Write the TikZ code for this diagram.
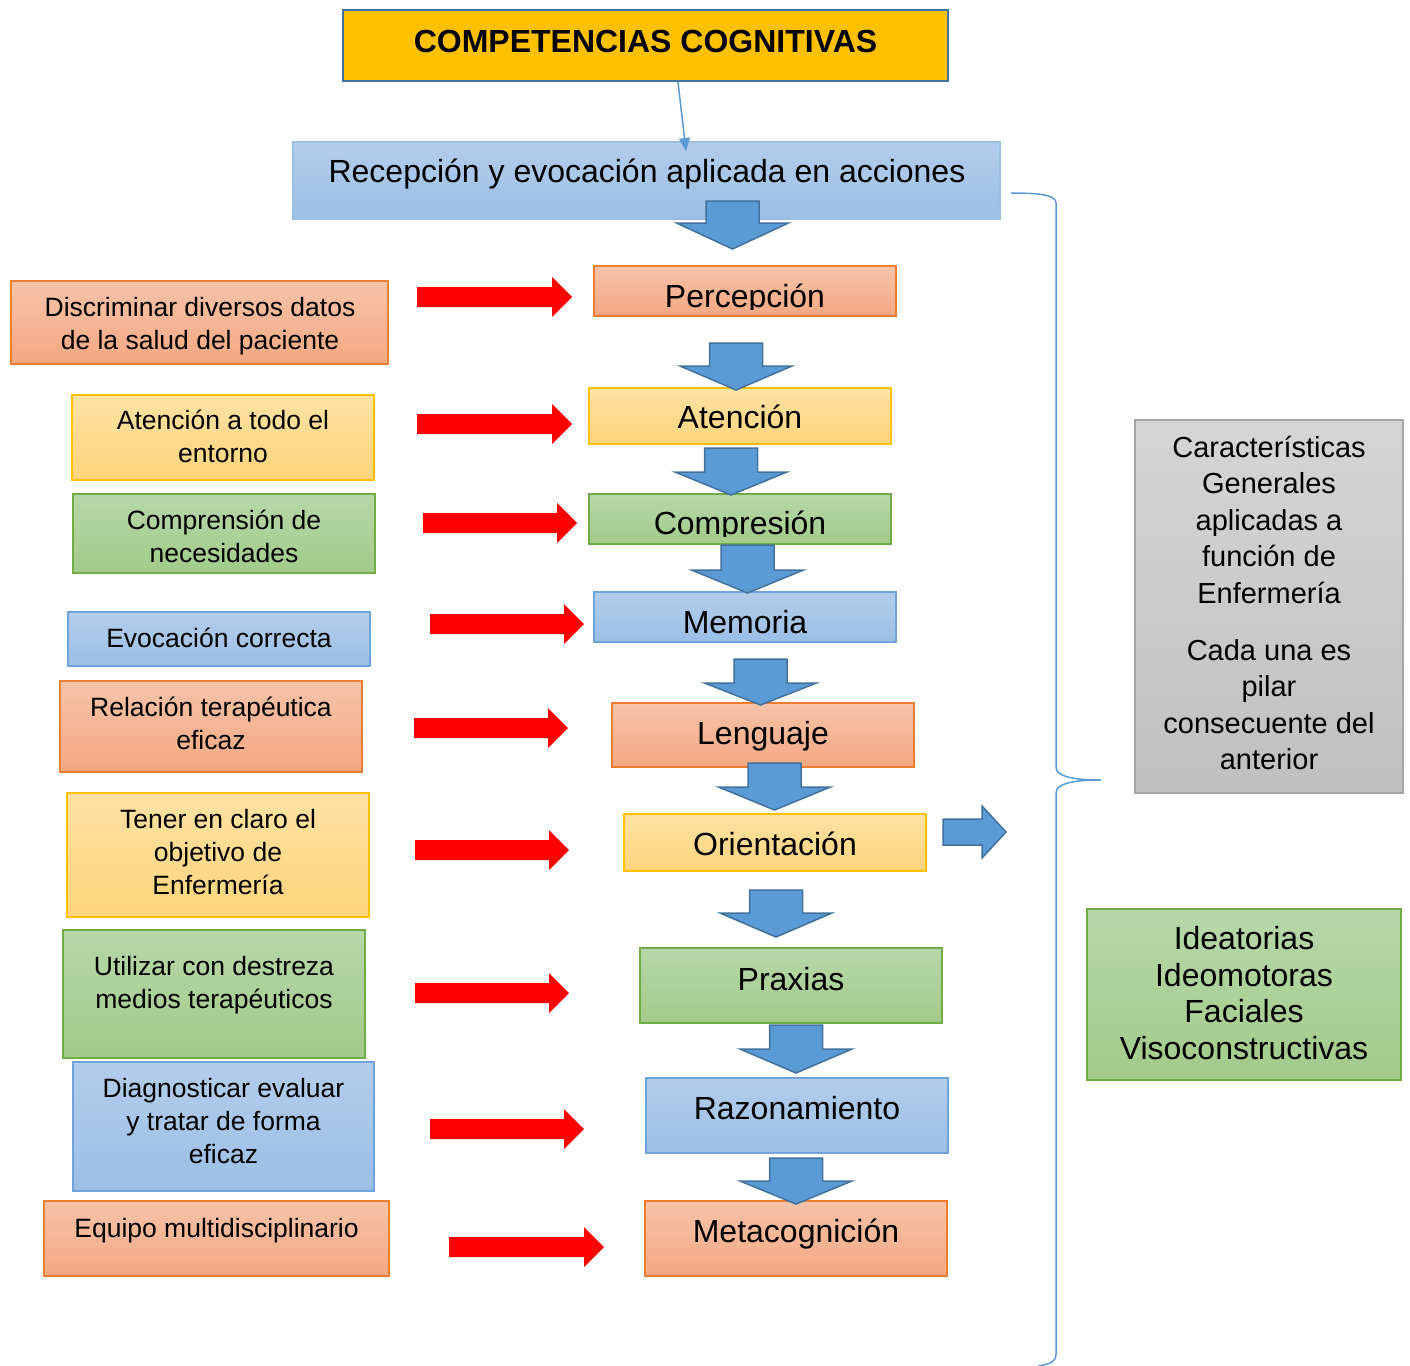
\documentclass[tikz,border=0pt]{standalone}
\usepackage{fontspec}
\setmainfont{Liberation Sans}
\usetikzlibrary{arrows.meta,fit}
\definecolor{orD}{HTML}{ED7D31}\definecolor{orT}{HTML}{F7C3A9}\definecolor{orB}{HTML}{F4A882}
\definecolor{yeD}{HTML}{FFC000}\definecolor{yeT}{HTML}{FFE2A4}\definecolor{yeB}{HTML}{FFD47C}
\definecolor{grD}{HTML}{70AD47}\definecolor{grT}{HTML}{B7D7A9}\definecolor{grB}{HTML}{A2CB8A}
\definecolor{blD}{HTML}{6FA3DA}\definecolor{blT}{HTML}{B3CDEB}\definecolor{blB}{HTML}{9BBFE6}
\definecolor{gyD}{HTML}{A5A5A5}\definecolor{gyT}{HTML}{D5D5D5}\definecolor{gyB}{HTML}{C0C0C0}
\definecolor{arF}{HTML}{5B9BD5}\definecolor{arD}{HTML}{41719C}
\newcommand\ml[1]{\begin{tabular}[t]{@{}c@{}}#1\end{tabular}}
\newcommand\blockdn[4]{% center x, shaft top, head base, tip
  \filldraw[bluearrow] (#1-26.5,#2) -- (#1+26.5,#2) -- (#1+26.5,#3) -- (#1+56,#3) -- (#1,#4) -- (#1-56,#3) -- (#1-26.5,#3) -- cycle;}
\newcommand\redarr[3]{% x start, x tip, center y
  \fill[red] (#1,#3-10) -- (#2-20,#3-10) -- (#2-20,#3-20) -- (#2,#3) -- (#2-20,#3+20) -- (#2-20,#3+10) -- (#1,#3+10) -- cycle;}
\tikzset{
  bx/.style={inner sep=0pt, line width=1.3pt},
  obox/.style={bx, draw=orD, top color=orT, bottom color=orB},
  ybox/.style={bx, draw=yeD, top color=yeT, bottom color=yeB},
  gbox/.style={bx, draw=grD, top color=grT, bottom color=grB},
  bbox/.style={bx, draw=blD, top color=blT, bottom color=blB},
  gybox/.style={bx, draw=gyD, top color=gyT, bottom color=gyB},
  bt/.style={anchor=base, inner sep=0pt, font=\fontsize{32}{37}\selectfont},
  st/.style={anchor=base, inner sep=0pt, font=\fontsize{26.5}{33.3}\selectfont},
  gt/.style={anchor=base, inner sep=0pt, font=\fontsize{29}{36.6}\selectfont},
  rt/.style={anchor=base, inner sep=0pt, font=\fontsize{32}{36.7}\selectfont},
  bluearrow/.style={fill=arF, draw=arD, line width=1.5pt, line join=miter},
  brace/.style={draw=arF, line width=1.5pt},
}
\begin{document}
\begin{tikzpicture}[x=1pt,y=-1pt]
\useasboundingbox (0,0) rectangle (1410,1365);
% title
\node[inner sep=0pt, line width=2pt, draw=arD, fill=yeD, fit={(343,10) (948,81)}] (title) {};
\node[anchor=base, inner sep=0pt, font=\fontsize{32}{38}\selectfont\bfseries] (titleT) at (645.5,52) {COMPETENCIAS COGNITIVAS};
% reception
\node[bbox, draw=blD!70, fit={(293,142) (1000,219)}] (recep) {};
\node[bt] (recepT) at (647,182) {Recepción y evocación aplicada en acciones};
\coordinate (c1) at (678,82);
\coordinate (c2) at (686,151);
\draw[arF, line width=1.5pt, -{Triangle[length=13pt,width=11pt]}] (c1) -- (c2);
% central column
\node[obox, fit={(594,266) (896,316)}] (perc) {};
\begin{scope}\clip (594,266) rectangle (896,309);
\node[bt] (percT) at (745,307) {Percepción};
\end{scope}
\node[ybox, fit={(589,388) (891,444)}] (aten) {};
\node[bt] (atenT) at (740,428) {Atención};
\node[gbox, fit={(589,494) (891,544)}] (comp) {};
\begin{scope}\clip (589,494) rectangle (891,536);
\node[bt] (compT) at (740,534) {Compresión};
\end{scope}
\node[bbox, fit={(594,592) (896,642)}] (mem) {};
\node[bt] (memT) at (745,633) {Memoria};
\node[obox, fit={(612,703) (914,767)}] (leng) {};
\node[bt] (lengT) at (763,744) {Lenguaje};
\node[ybox, fit={(624,814) (926,871)}] (orie) {};
\node[bt] (orieT) at (775,855) {Orientación};
\node[gbox, fit={(640,948) (942,1023)}] (prax) {};
\node[bt] (praxT) at (791,990) {Praxias};
\node[bbox, fit={(646,1078) (948,1153)}] (razo) {};
\node[bt] (razoT) at (797,1119) {Razonamiento};
\node[obox, fit={(645,1201) (947,1276)}] (meta) {};
\node[bt] (metaT) at (796,1242) {Metacognición};
% left column
\node[obox, fit={(11,281) (388,364)}] (l1) {};
\node[st] (l1T) at (200,316) {\ml{Discriminar diversos datos\\de la salud del paciente}};
\node[ybox, fit={(72,395) (374,480)}] (l2) {};
\node[st] (l2T) at (223,429) {\ml{Atención a todo el\\entorno}};
\node[gbox, fit={(73,494) (375,573)}] (l3) {};
\node[st] (l3T) at (224,529) {\ml{Comprensión de\\necesidades}};
\node[bbox, fit={(68,612) (370,666)}] (l4) {};
\node[st] (l4T) at (219,647) {Evocación correcta};
\node[obox, fit={(60,681) (362,772)}] (l5) {};
\node[st] (l5T) at (211,716) {\ml{Relación terapéutica\\eficaz}};
\node[ybox, fit={(67,793) (369,917)}] (l6) {};
\node[st] (l6T) at (218,828) {\ml{Tener en claro el\\objetivo de\\Enfermería}};
\node[gbox, fit={(63,930) (365,1058)}] (l7) {};
\node[st] (l7T) at (214,975) {\ml{Utilizar con destreza\\medios terapéuticos}};
\node[bbox, fit={(73,1062) (374,1191)}] (l8) {};
\node[st] (l8T) at (223.5,1097) {\ml{Diagnosticar evaluar\\y tratar de forma\\eficaz}};
\node[obox, fit={(44,1201) (389,1276)}] (l9) {};
\node[st] (l9T) at (216.5,1237) {Equipo multidisciplinario};
% right side
\node[gybox, fit={(1135,420) (1403,793)}] (gray) {};
\node[gt] (grayT1) at (1269,457) {\ml{Características\\Generales\\aplicadas a\\función de\\Enfermería}};
\node[gt] (grayT2) at (1269,660) {\ml{Cada una es\\pilar\\consecuente del\\anterior}};
\node[gbox, fit={(1087,909) (1401,1080)}] (prx) {};
\node[rt] (prxT) at (1244,949.5) {\ml{Ideatorias\\Ideomotoras\\Faciales\\Visoconstructivas}};
% brace
\draw[brace] (1011,193) .. controls (1040,193) and (1056,195) .. (1056,203) -- (1056,767)
  .. controls (1056,777) and (1075,780) .. (1101,780)
  .. controls (1075,780) and (1056,783) .. (1056,793) -- (1056,1354)
  .. controls (1056,1362) and (1050,1364) .. (1038,1366);
% blue block arrows
\blockdn{732.5}{201}{223}{249}
\blockdn{736}{343}{366}{390}
\blockdn{731}{448}{472}{495}
\blockdn{747.5}{545}{570}{593}
\blockdn{760.5}{659}{683}{705}
\blockdn{774.5}{763}{787}{810}
\blockdn{776}{890}{913}{937}
\blockdn{796}{1025}{1049}{1073}
\blockdn{796}{1158}{1181}{1204}
\filldraw[bluearrow] (943,819) -- (982,819) -- (982,806) -- (1006,832) -- (982,858) -- (982,845) -- (943,845) -- cycle;
% red arrows
\redarr{417}{572}{297}
\redarr{417}{572}{424}
\redarr{423}{577}{523}
\redarr{430}{584}{624}
\redarr{414}{568}{728}
\redarr{415}{569}{850}
\redarr{415}{569}{993}
\redarr{430}{584}{1129}
\redarr{449}{604}{1247}
\end{tikzpicture}
\end{document}
